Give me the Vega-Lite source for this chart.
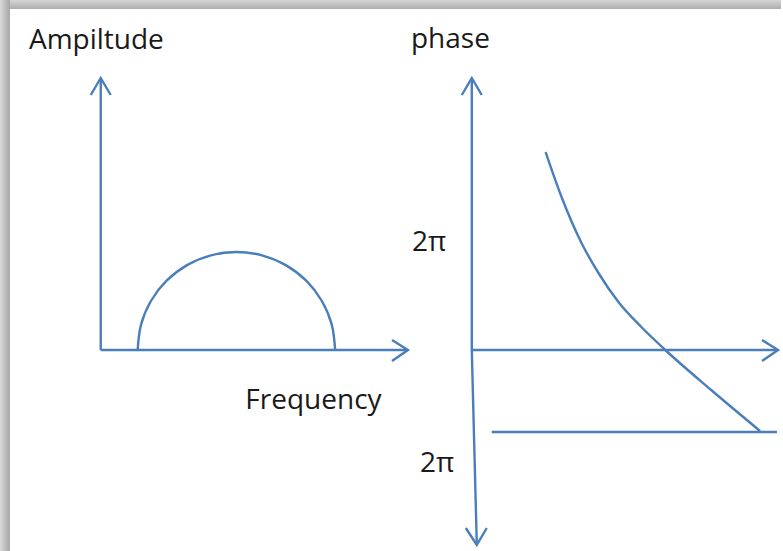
{
  "$schema": "https://vega.github.io/schema/vega-lite/v6.json",
  "width": 783,
  "height": 551,
  "padding": 0,
  "autosize": {"type": "fit", "contains": "padding"},
  "background": "white",
  "config": {"view": {"stroke": null}},
  "datasets": {
    "axes": [
      {"g": "lv", "i": 0, "x": 101, "y": 350}, {"g": "lv", "i": 1, "x": 101, "y": 78},
      {"g": "lvh", "i": 0, "x": 91, "y": 95}, {"g": "lvh", "i": 1, "x": 101, "y": 78}, {"g": "lvh", "i": 2, "x": 111, "y": 95},
      {"g": "lh", "i": 0, "x": 101, "y": 350}, {"g": "lh", "i": 1, "x": 409, "y": 350},
      {"g": "lhh", "i": 0, "x": 393, "y": 340}, {"g": "lhh", "i": 1, "x": 409, "y": 350}, {"g": "lhh", "i": 2, "x": 393, "y": 361},
      {"g": "rv", "i": 0, "x": 473, "y": 78}, {"g": "rv", "i": 1, "x": 473, "y": 350}, {"g": "rv", "i": 2, "x": 478, "y": 544},
      {"g": "rvt", "i": 0, "x": 463, "y": 95}, {"g": "rvt", "i": 1, "x": 473, "y": 78}, {"g": "rvt", "i": 2, "x": 483, "y": 95},
      {"g": "rvb", "i": 0, "x": 467, "y": 528}, {"g": "rvb", "i": 1, "x": 478, "y": 545}, {"g": "rvb", "i": 2, "x": 488, "y": 528},
      {"g": "rh", "i": 0, "x": 473, "y": 350}, {"g": "rh", "i": 1, "x": 780, "y": 350},
      {"g": "rhh", "i": 0, "x": 764, "y": 340}, {"g": "rhh", "i": 1, "x": 780, "y": 350}, {"g": "rhh", "i": 2, "x": 764, "y": 361},
      {"g": "low", "i": 0, "x": 493, "y": 432}, {"g": "low", "i": 1, "x": 779, "y": 432}
    ],
    "arc": [
      {"i": 0, "x": 138, "y": 350}, {"i": 1, "x": 141.4, "y": 324.6}, {"i": 2, "x": 151.3, "y": 301},
      {"i": 3, "x": 167, "y": 280.7}, {"i": 4, "x": 187.5, "y": 265.1}, {"i": 5, "x": 211.4, "y": 255.3},
      {"i": 6, "x": 237, "y": 252}, {"i": 7, "x": 262.6, "y": 255.3}, {"i": 8, "x": 286.5, "y": 265.1},
      {"i": 9, "x": 307, "y": 280.7}, {"i": 10, "x": 322.7, "y": 301}, {"i": 11, "x": 332.6, "y": 324.6},
      {"i": 12, "x": 336, "y": 350}
    ],
    "phase": [
      {"i": 0, "x": 547, "y": 152}, {"i": 1, "x": 563, "y": 197}, {"i": 2, "x": 583, "y": 243},
      {"i": 3, "x": 600, "y": 273}, {"i": 4, "x": 620, "y": 302}, {"i": 5, "x": 643, "y": 327},
      {"i": 6, "x": 667, "y": 350}, {"i": 7, "x": 713, "y": 390}, {"i": 8, "x": 762, "y": 431}
    ],
    "labels": [
      {"t": "Ampiltude", "x": 29, "y": 49},
      {"t": "phase", "x": 412, "y": 48},
      {"t": "Frequency", "x": 246, "y": 409},
      {"t": "2π", "x": 413, "y": 251},
      {"t": "2π", "x": 421, "y": 472}
    ],
    "topShade": [{"x": 0, "x2": 783, "y": 0, "y2": 9}],
    "leftShade": [{"x": 0, "x2": 10, "y": 0, "y2": 551}]
  },
  "encoding": {
    "x": {"field": "x", "type": "quantitative", "axis": null, "scale": {"domain": [0, 783], "nice": false, "zero": false}},
    "y": {"field": "y", "type": "quantitative", "axis": null, "scale": {"domain": [0, 551], "nice": false, "zero": false, "reverse": true}}
  },
  "layer": [
    {
      "data": {"name": "topShade"},
      "mark": {"type": "rect", "color": {"gradient": "linear", "x1": 0, "y1": 0, "x2": 0, "y2": 1, "stops": [{"offset": 0, "color": "#d4d4d4"}, {"offset": 1, "color": "#aeaeae"}]}},
      "encoding": {"x2": {"field": "x2"}, "y2": {"field": "y2"}}
    },
    {
      "data": {"name": "leftShade"},
      "mark": {"type": "rect", "color": {"gradient": "linear", "x1": 0, "y1": 0, "x2": 1, "y2": 0, "stops": [{"offset": 0, "color": "#dadada"}, {"offset": 1, "color": "#a6a6a6"}]}},
      "encoding": {"x2": {"field": "x2"}, "y2": {"field": "y2"}}
    },
    {
      "data": {"name": "axes"},
      "mark": {"type": "line", "color": "#4a7ebb", "strokeWidth": 2.4},
      "encoding": {"detail": {"field": "g"}, "order": {"field": "i", "type": "quantitative"}}
    },
    {
      "data": {"name": "arc"},
      "mark": {"type": "line", "color": "#4a7ebb", "strokeWidth": 2.4, "interpolate": "cardinal"},
      "encoding": {"order": {"field": "i", "type": "quantitative"}}
    },
    {
      "data": {"name": "phase"},
      "mark": {"type": "line", "color": "#4a7ebb", "strokeWidth": 2.4, "interpolate": "monotone"},
      "encoding": {"order": {"field": "i", "type": "quantitative"}}
    },
    {
      "data": {"name": "labels"},
      "mark": {"type": "text", "align": "left", "baseline": "alphabetic", "font": "Open Sans", "fontSize": 28, "color": "#1a1a1a"},
      "encoding": {"text": {"field": "t"}}
    }
  ]
}
